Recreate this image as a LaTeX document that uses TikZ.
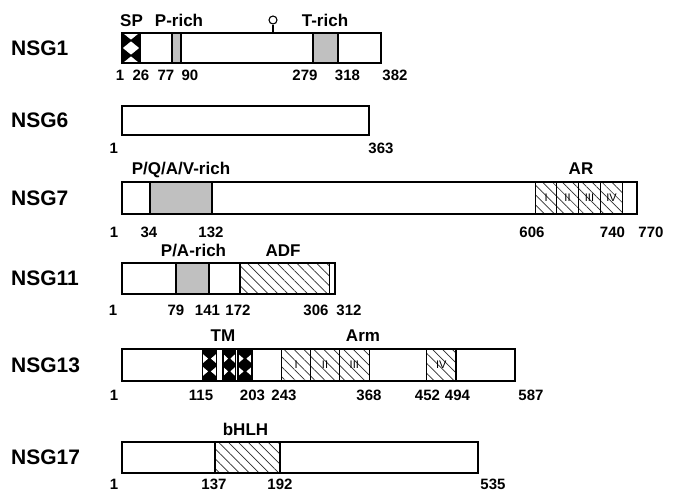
\documentclass[tikz,border=0pt]{standalone}
\usepackage{fontspec}
\setmainfont{Liberation Sans}
\usetikzlibrary{patterns.meta}

\definecolor{richgray}{RGB}{192,192,192}
\definecolor{hatchgray}{RGB}{45,45,45}

\tikzset{
  box/.style={draw=black, line width=1.3pt},
  prot/.style={box, fill=white},
  rich/.style={box, fill=richgray},
  hatch/.style={box, pattern={Lines[angle=-45,distance=7pt,line width=0.7pt]}, pattern color=hatchgray},
  protname/.style={anchor=west, inner sep=0pt, font=\fontsize{21}{21}\selectfont\bfseries},
  domlbl/.style={anchor=base, inner sep=0pt, font=\fontsize{17}{17}\selectfont\bfseries},
  numlbl/.style={anchor=base, inner sep=0pt, font=\fontsize{15}{15}\selectfont\bfseries},
  replbl/.style={inner sep=0pt, font=\fontsize{11}{11}\selectfont},
}

% black block with white diamonds down its middle (signal peptide)
\newcommand{\sigblock}[4]{%
  \fill (#1,#3) rectangle (#2,#4);
  \begin{scope}
    \clip (#1,#3) rectangle (#2,#4);
    \foreach \t in {0,0.5,1}
      \fill[white] ({(#1+#2)/2},{#3+\t*(#4-#3)}) +({-0.45*(#2-#1)},0) -- +(0,{0.22*(#4-#3)})
        -- +({0.45*(#2-#1)},0) -- +(0,{-0.22*(#4-#3)}) -- cycle;
  \end{scope}
  \draw[box] (#1,#3) rectangle (#2,#4);}

% black block with white notches at both sides (transmembrane)
\newcommand{\tmblock}[4]{%
  \fill (#1,#3) rectangle (#2,#4);
  \begin{scope}
    \clip (#1,#3) rectangle (#2,#4);
    \foreach \xx in {#1,#2}
      \foreach \t in {0.3,0.7}
        \fill[white] (\xx,{#3+\t*(#4-#3)}) +({-0.4*(#2-#1)},0) -- +(0,{0.15*(#4-#3)})
          -- +({0.4*(#2-#1)},0) -- +(0,{-0.15*(#4-#3)}) -- cycle;
  \end{scope}
  \draw[box] (#1,#3) rectangle (#2,#4);}

\begin{document}
\begin{tikzpicture}[x=1pt,y=-1pt]
\useasboundingbox (0,0) rectangle (675,491);

% NSG1
\node[protname] (nsg1) at (11,48) {NSG1};
\draw[prot] (122,33) rectangle (381,63);
\sigblock{122}{140}{33}{63}
\draw[rich] (172,33) rectangle (181,63);
\draw[rich] (313,33) rectangle (338,63);
\coordinate (pin) at (273,33);
\node[circle, draw, line width=1.1pt, fill=white, minimum size=8pt, inner sep=0pt] (glyc) at (273,20) {};
\draw[line width=1.1pt] (pin) -- (glyc);
\node[domlbl] (sp) at (131.5,26.5) {SP};
\node[domlbl] (prich) at (179,26.5) {P-rich};
\node[domlbl] (trich) at (325,26.5) {T-rich};
\foreach \x/\t in {120/1,141/26,166/77,190/90,305/279,347.5/318,395/382}
  \node[numlbl] (a-\t) at (\x,80) {\t};

% NSG6
\node[protname] (nsg6) at (11,120.5) {NSG6};
\draw[prot] (122,106) rectangle (369,135);
\foreach \x/\t in {113.7/1,381/363}
  \node[numlbl] (b-\t) at (\x,153) {\t};

% NSG7
\node[protname] (nsg7) at (11,198.5) {NSG7};
\draw[prot] (122,182) rectangle (637,214);
\draw[rich] (150,182) rectangle (212,214);
\foreach \xa/\xb/\r in {535.6/556.5/I,556.5/578.5/II,578.5/600.5/III,600.5/622.5/IV}{
  \draw[hatch] (\xa,182) rectangle (\xb,214);
  \node[replbl] (ar-\r) at ({(\xa+\xb)/2},198) {\r};
}
\node[domlbl] (pqav) at (181,174.5) {P/Q/A/V-rich};
\node[domlbl] (ar) at (581,174.5) {AR};
\foreach \x/\t in {114/1,149/34,211/132,532/606,612.5/740,651/770}
  \node[numlbl] (c-\t) at (\x,237) {\t};

% NSG11
\node[protname] (nsg11) at (11,278.5) {NSG11};
\draw[prot] (122,263) rectangle (335,294);
\draw[rich] (176,263) rectangle (209,294);
\draw[hatch] (240,263) rectangle (329.5,294);
\node[domlbl] (parich) at (193.5,256) {P/A-rich};
\node[domlbl] (adf) at (283,256) {ADF};
\foreach \x/\t in {113/1,176/79,207.5/141,238/172,316/306,349/312}
  \node[numlbl] (d-\t) at (\x,315) {\t};

% NSG13
\node[protname] (nsg13) at (11,365) {NSG13};
\draw[prot] (122,349) rectangle (515,381);
\tmblock{202.5}{216.5}{349}{381}
\tmblock{223}{235.5}{349}{381}
\tmblock{238}{252}{349}{381}
\foreach \xa/\xb/\r in {281.7/310.7/I,310.7/339.3/II,339.3/369.3/III,426.7/456/IV}{
  \draw[hatch] (\xa,349) rectangle (\xb,381);
  \node[replbl] (arm-\r) at ({(\xa+\xb)/2},365) {\r};
}
\node[domlbl] (tm) at (223,341.5) {TM};
\node[domlbl] (arm) at (363,341.5) {Arm};
\foreach \x/\t in {114/1,201/115,252.5/203,284/243,369/368,427.5/452,457.5/494,531/587}
  \node[numlbl] (e-\t) at (\x,400) {\t};

% NSG17
\node[protname] (nsg17) at (11,457) {NSG17};
\draw[prot] (122,442) rectangle (478,473);
\draw[hatch] (215,442) rectangle (280,473);
\node[domlbl] (bhlh) at (245.5,435) {bHLH};
\foreach \x/\t in {114/1,214/137,280/192,493/535}
  \node[numlbl] (f-\t) at (\x,489) {\t};
\end{tikzpicture}
\end{document}
